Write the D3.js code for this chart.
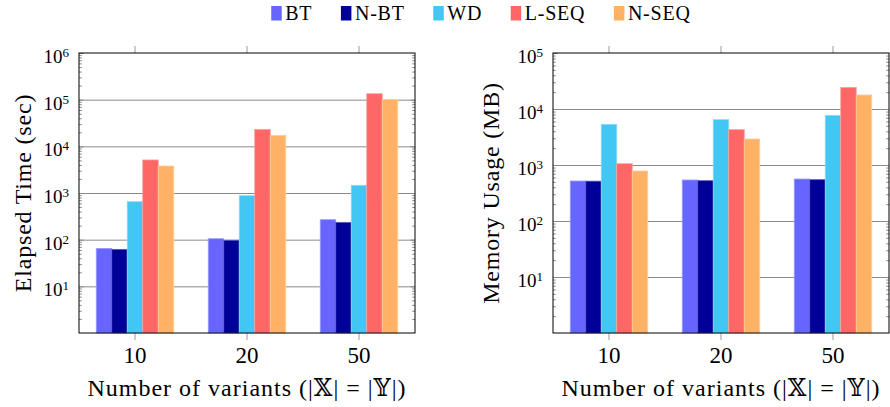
<!DOCTYPE html>
<html>
<head>
<meta charset="utf-8">
<script src="https://cdnjs.cloudflare.com/ajax/libs/d3/7.8.5/d3.min.js"></script>
<style>
  body { margin: 0; background: #fff; }
  svg text { font-family: "Liberation Serif", "Times New Roman", Tinos, "DejaVu Serif", serif !important; fill: #000; }
</style>
</head>
<body>
<svg id="chart" width="890" height="407"></svg>
<script>
// categories and series
var variants = ["10", "20", "50"];
var methods = ["BT", "N-BT", "WD", "L-SEQ", "N-SEQ"];
var colors = ["#6666ff", "#000099", "#42c6f2", "#ff6666", "#ffb266"];

// elapsed time (sec), one value per variant count
var timeBT   = [65, 105, 268];
var timeNBT  = [62, 97, 235];
var timeWD   = [650, 876, 1460];
var timeLSEQ = [5100, 23100, 134000];
var timeNSEQ = [3790, 17200, 100000];

// memory usage (MB)
var memBT   = [518, 540, 562];
var memNBT  = [515, 525, 547];
var memWD   = [5320, 6440, 7690];
var memLSEQ = [1055, 4270, 24300];
var memNSEQ = [781, 2910, 17800];

var svg = d3.select("#chart");
var top0 = 53, bottom0 = 333;
var barW = 15.5;

function sup(sel) {
  sel.each(function(d) {
    var t = d3.select(this);
    var e = Math.round(Math.log10(d));
    t.text(null).attr("dy", null).attr("y", 9.5);
    t.append("tspan").text("10");
    t.append("tspan").attr("dy", -6).attr("font-size", 13).text(e);
  });
}

function drawPanel(p) {
  var g = svg.append("g");
  var x = d3.scaleBand().domain(variants).range([p.x0, p.x1]);
  var y = d3.scaleLog().domain([1, p.yMax]).range([bottom0, top0]);
  var sub = d3.scaleBand().domain(methods).range([-2.5 * barW, 2.5 * barW]);

  var nDec = Math.round(Math.log10(p.yMax));
  var majors = d3.range(1, nDec).map(function(e) { return Math.pow(10, e); });
  var minors = [];
  for (var e = 0; e < nDec; e++)
    for (var k = 2; k <= 9; k++) minors.push(k * Math.pow(10, e));

  // grid
  g.append("g")
    .attr("transform", "translate(" + p.x0 + ",0)")
    .call(d3.axisLeft(y).tickValues(majors).tickSize(-(p.x1 - p.x0)).tickFormat(""))
    .call(function(s) {
      s.select(".domain").remove();
      s.selectAll("line").attr("stroke", "#c4c4c4").attr("stroke-width", 1);
    });

  // bars
  var rows = [];
  variants.forEach(function(v, i) {
    methods.forEach(function(m, j) {
      rows.push({ variant: v, method: m, value: p.series[j][i], color: colors[j] });
    });
  });
  g.append("g").selectAll("rect")
    .data(rows)
    .enter()
    .append("rect")
      .attr("x", function(d) { return x(d.variant) + x.bandwidth() / 2 + sub(d.method); })
      .attr("y", function(d) { return y(d.value); })
      .attr("width", sub.bandwidth())
      .attr("height", function(d) { return bottom0 - y(d.value); })
      .attr("fill", function(d) { return d.color; })
      .attr("stroke", function(d) { return d3.interpolateRgb(d.color, "#fff")(0.35); })
      .attr("stroke-width", 0.8);

  // y minor ticks (inside, both sides)
  g.append("g")
    .attr("transform", "translate(" + p.x0 + ",0)")
    .call(d3.axisLeft(y).tickValues(minors).tickSize(-2.8).tickFormat(""));
  g.append("g")
    .attr("transform", "translate(" + p.x1 + ",0)")
    .call(d3.axisRight(y).tickValues(minors).tickSize(-2.8).tickFormat(""));

  // y major ticks + labels
  g.append("g")
    .attr("class", "ymaj")
    .attr("transform", "translate(" + p.x0 + ",0)")
    .call(d3.axisLeft(y).tickValues(majors.concat([p.yMax])).tickSize(-4.5).tickPadding(10))
    .call(function(s) { s.selectAll("text").attr("font-size", 19).call(sup); });
  g.append("g")
    .attr("transform", "translate(" + p.x1 + ",0)")
    .call(d3.axisRight(y).tickValues(majors).tickSize(-4.5).tickFormat(""));

  g.selectAll(".domain").remove();
  g.selectAll(".tick line").attr("stroke", "#8a8a8a");

  // x ticks top and bottom (outside)
  g.append("g")
    .attr("transform", "translate(0," + bottom0 + ")")
    .call(d3.axisBottom(x).tickSize(7).tickSizeOuter(0))
    .call(function(s) {
      s.select(".domain").remove();
      s.selectAll("line").attr("stroke", "#9a9a9a");
      s.selectAll("text").attr("font-size", 23).attr("y", 30).attr("dy", null);
    });
  g.append("g")
    .attr("transform", "translate(0," + top0 + ")")
    .call(d3.axisTop(x).tickSize(7).tickSizeOuter(0).tickFormat(""))
    .call(function(s) {
      s.select(".domain").remove();
      s.selectAll("line").attr("stroke", "#9a9a9a");
    });

  // frame
  g.append("rect")
    .attr("x", p.x0).attr("y", top0)
    .attr("width", p.x1 - p.x0).attr("height", bottom0 - top0)
    .attr("fill", "none").attr("stroke", "#000").attr("stroke-width", 1);

  // titles
  g.append("text")
    .attr("x", (p.x0 + p.x1) / 2).attr("y", 396)
    .attr("text-anchor", "middle")
    .attr("font-size", 24)
    .attr("letter-spacing", 1)
    .text("Number of variants (|\u{1D54F}| = |\u{1D550}|)");
  g.append("text")
    .attr("transform", "translate(" + p.titleX + "," + ((top0 + bottom0) / 2) + ") rotate(-90)")
    .attr("text-anchor", "middle")
    .attr("font-size", 24)
    .attr("letter-spacing", 0.8)
    .text(p.title);
}

drawPanel({
  x0: 79, x1: 415, yMax: 1e6, titleX: 31,
  title: "Elapsed Time (sec)",
  series: [timeBT, timeNBT, timeWD, timeLSEQ, timeNSEQ]
});
drawPanel({
  x0: 553, x1: 889, yMax: 1e5, titleX: 499,
  title: "Memory Usage (MB)",
  series: [memBT, memNBT, memWD, memLSEQ, memNSEQ]
});

// legend
var leg = svg.append("g");
var lx = 0;
methods.forEach(function(m, i) {
  var it = leg.append("g").attr("transform", "translate(" + lx + ",0)");
  it.append("rect").attr("x", 0).attr("y", 6).attr("width", 10.5).attr("height", 14.5)
    .attr("fill", colors[i]);
  var t = it.append("text").attr("x", 14).attr("y", 20).attr("font-size", 20)
    .attr("letter-spacing", 0.8).text(m);
  lx += 14 + t.node().getComputedTextLength() + 28.5;
});
var legW = lx - 28.5;
leg.attr("transform", "translate(" + (481 - legW / 2) + ",0)");
</script>
</body>
</html>
